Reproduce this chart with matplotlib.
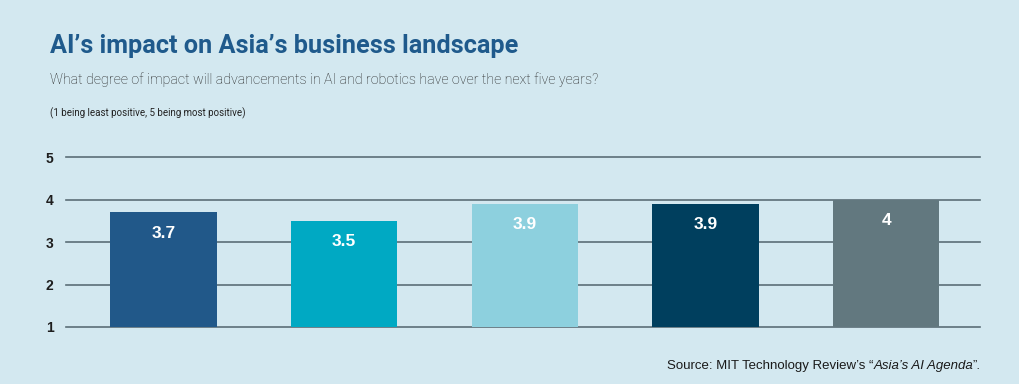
import matplotlib
matplotlib.use("Agg")
import matplotlib.pyplot as plt

categories = ["A", "B", "C", "D", "E"]
values = [3.7, 3.5, 3.9, 3.9, 4.0]
labels = ["3.7", "3.5", "3.9", "3.9", "4"]
colors = ["#215889", "#00a9c3", "#8dd0de", "#003f5e", "#62787f"]
yticks = [1, 2, 3, 4, 5]

BG = "#d3e8f0"
W, H = 1019, 384
fig = plt.figure(figsize=(W / 100, H / 100), dpi=100, facecolor=BG)

ax = fig.add_axes([66 / W, 1 - 327 / H, (980 - 66) / W, (327 - 157) / H], facecolor=BG)
x = list(range(len(categories)))
ax.bar(x, [v - 1 for v in values], bottom=1, width=0.59, color=colors, zorder=3)
ax.set_xlim(-0.54, 4.52)
ax.set_ylim(1, 5)
for t in yticks:
    ax.axhline(t, color="#5b6e77", lw=1.2, zorder=1, clip_on=False)
for s in ax.spines.values():
    s.set_visible(False)
ax.set_xticks([])
ax.set_yticks(yticks)
ax.set_yticklabels([str(t) for t in yticks], fontweight="bold", fontsize=10,
                   color="#1e1e1e", family=["Liberation Sans", "DejaVu Sans"])
ax.tick_params(axis="y", length=0, pad=9)

for xi, v, lab in zip(x, values, labels):
    ax.annotate(lab, (xi, v), xytext=(0, -15), textcoords="offset points",
                ha="center", va="center", color="white", fontsize=12.5,
                fontweight="bold", family=["Liberation Sans", "DejaVu Sans"], zorder=4)

fig.text(50 / W, 1 - 46 / H, "AI’s impact on Asia’s business landscape",
         fontsize=18.2, fontweight="bold", color="#1f5a8c",
         family=["Roboto", "DejaVu Sans"], va="center", ha="left")
fig.text(50 / W, 1 - 80 / H,
         "What degree of impact will advancements in AI and robotics have over the next five years?",
         fontsize=10.3, fontweight="light", color="#222222",
         family=["Roboto", "DejaVu Sans"], va="center", ha="left")
fig.text(50 / W, 1 - 113 / H, "(1 being least positive, 5 being most positive)",
         fontsize=7, color="#222222",
         family=["Roboto", "DejaVu Sans"], va="center", ha="left")

# Source line, built right-to-left from three pieces
src_y = 1 - 366 / H
renderer = fig.canvas.get_renderer()
pieces = [("Source: MIT Technology Review’s “", "normal"),
          ("Asia’s AI Agenda", "italic"),
          ("”.", "normal")]
right = 981 / W
for txt, style in reversed(pieces):
    t = fig.text(right, src_y, txt, fontsize=9.5, style=style, color="#1a1a1a",
                 family=["Liberation Sans", "DejaVu Sans"], va="center", ha="right")
    bb = t.get_window_extent(renderer=renderer)
    right -= bb.width / (W)

fig.savefig("out.png", dpi=100, facecolor=BG)
